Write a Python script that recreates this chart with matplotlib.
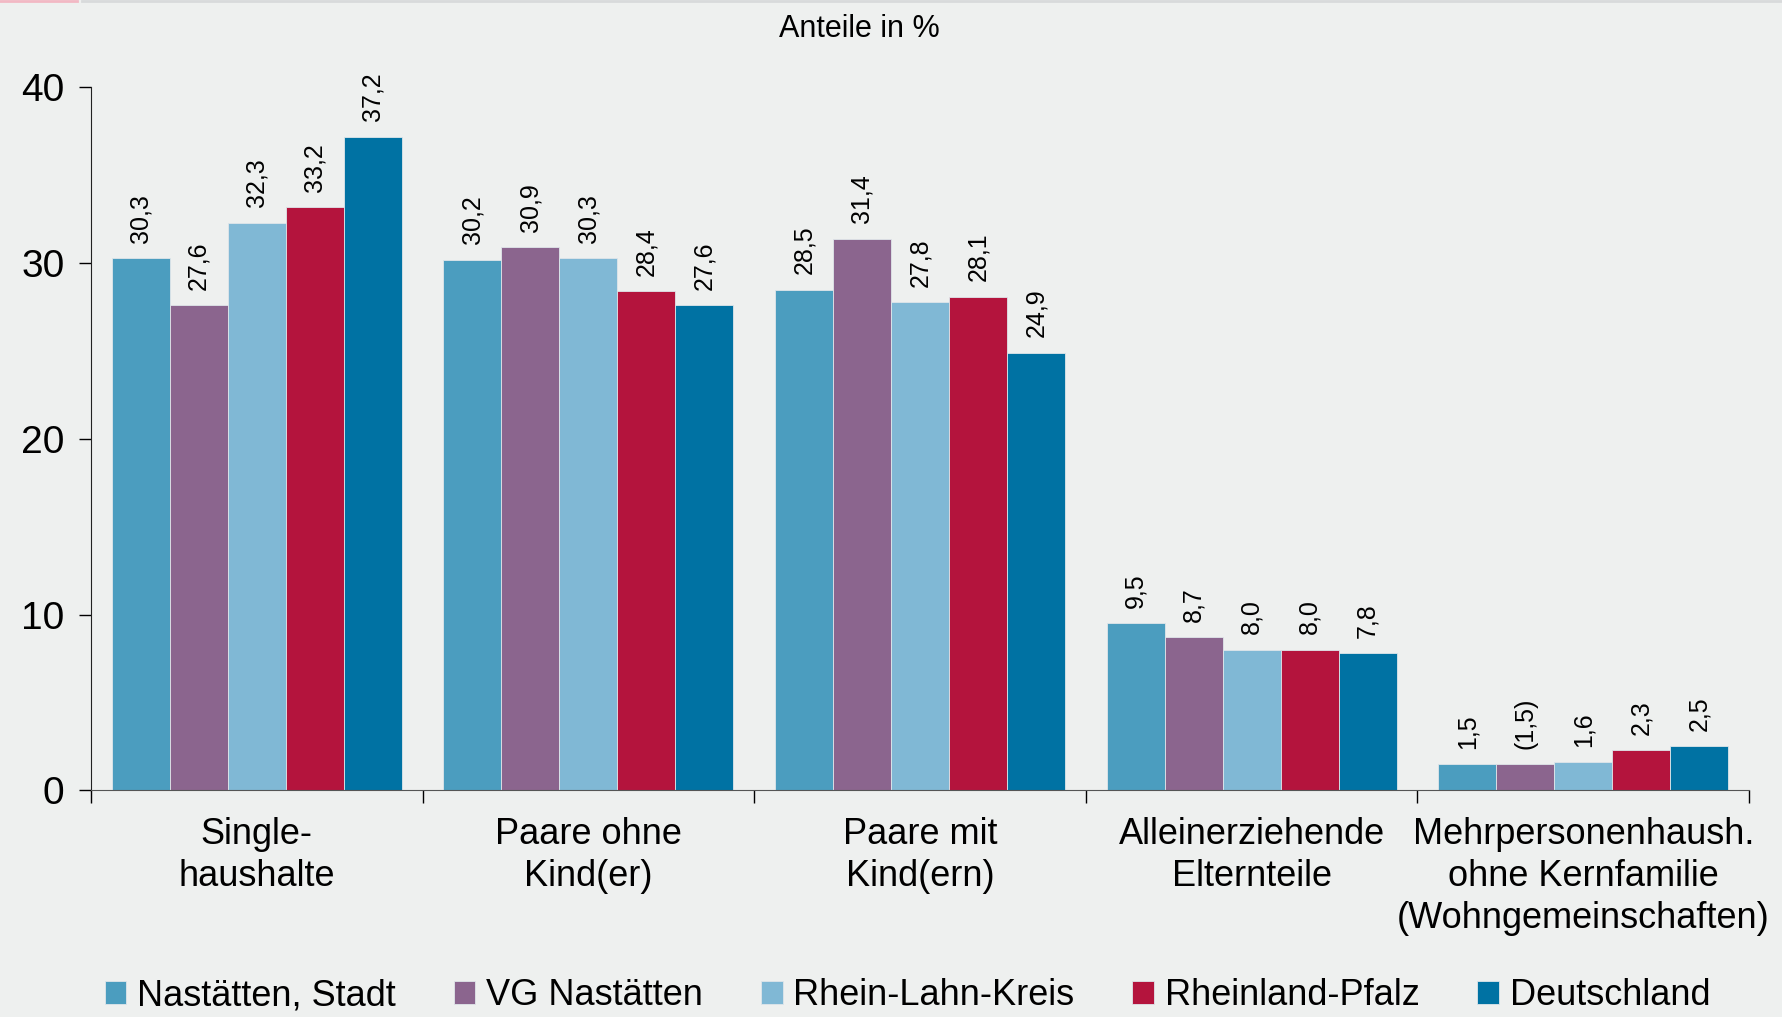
import matplotlib.pyplot as plt
import numpy as np

categories = ["Single-\nhaushalte", "Paare ohne\nKind(er)", "Paare mit\nKind(ern)",
              "Alleinerziehende\nElternteile",
              "Mehrpersonenhaush.\nohne Kernfamilie\n(Wohngemeinschaften)"]
series = ["Nastätten, Stadt", "VG Nastätten", "Rhein-Lahn-Kreis", "Rheinland-Pfalz", "Deutschland"]
nastaetten = [30.3, 30.2, 28.5, 9.5, 1.5]
vg_nastaetten = [27.6, 30.9, 31.4, 8.7, 1.5]
rhein_lahn = [32.3, 30.3, 27.8, 8.0, 1.6]
rlp = [33.2, 28.4, 28.1, 8.0, 2.3]
deutschland = [37.2, 27.6, 24.9, 7.8, 2.5]
vg_labels = ["27,6", "30,9", "31,4", "8,7", "(1,5)"]

colors = ["#4b9dbf", "#8b658e", "#80b8d5", "#b4143d", "#0072a3"]
bg = "#eef0ef"

plt.rcParams["font.family"] = ["Liberation Sans", "DejaVu Sans"]

fig = plt.figure(figsize=(17.83, 10.17), dpi=100, facecolor=bg)
ax = fig.add_axes([0.051, 0.223, 0.930, 0.691], facecolor=bg)

data = [nastaetten, vg_nastaetten, rhein_lahn, rlp, deutschland]
x = np.arange(len(categories))
w = 0.175
for i, (vals, col, name) in enumerate(zip(data, colors, series)):
    pos = x + (i - 2) * w
    ax.bar(pos, vals, width=w, color=col, edgecolor="#dfe6ea", linewidth=0.6, label=name)
    for j, (p, v) in enumerate(zip(pos, vals)):
        txt = vg_labels[j] if i == 1 else f"{v:.1f}".replace(".", ",")
        ax.annotate(txt, (p, v), xytext=(0, 11), textcoords="offset points",
                    rotation=90, ha="center", va="bottom", fontsize=18)

ax.set_xlim(-0.5, 4.5)
ax.set_ylim(0, 40)
ax.set_yticks([0, 10, 20, 30, 40])
ax.tick_params(axis="y", labelsize=28, length=9, width=1, pad=10)
ax.set_xticks(np.arange(-0.5, 5, 1))
ax.set_xticklabels([])
ax.tick_params(axis="x", length=9, width=1, direction="out")
for c, lab in zip(x, categories):
    ax.text(c, -1.55, lab, ha="center", va="top", fontsize=26, linespacing=1.25)
for s in ["top", "right"]:
    ax.spines[s].set_visible(False)
ax.spines["left"].set_color("#222222")
ax.spines["bottom"].set_color("#555555")

fig.text(0.482, 0.971, "Anteile in %", ha="center", va="center", fontsize=22)

leg = fig.legend(loc="center", bbox_to_anchor=(0.509, 0.021), ncol=5, frameon=False,
                 prop={"size": 26}, handlelength=0.6, handleheight=0.6,
                 handletextpad=0.3, columnspacing=1.6)

fig.add_artist(plt.Line2D([0, 0.043], [0.999, 0.999], color="#f2b8c4", lw=2))
fig.add_artist(plt.Line2D([0.046, 1], [0.999, 0.999], color="#d8dadb", lw=2))

fig.savefig("out.png", dpi=100, facecolor=bg)
